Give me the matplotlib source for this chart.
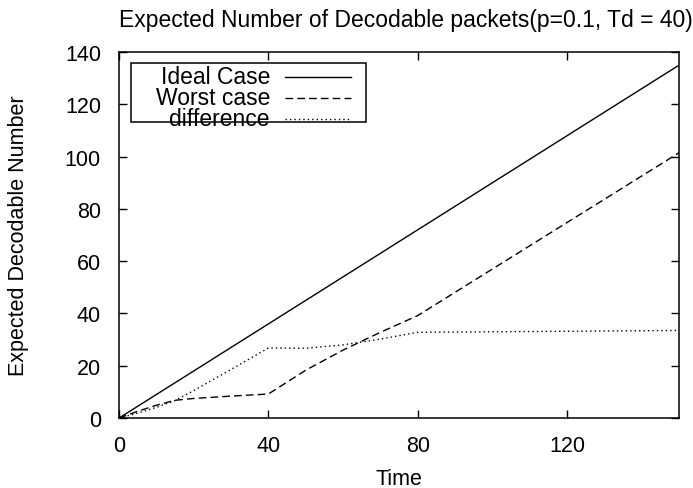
import matplotlib
matplotlib.use("Agg")
import matplotlib.pyplot as plt
from matplotlib.patches import Rectangle

plt.rcParams['font.family'] = ['Liberation Sans', 'DejaVu Sans']

# decodable packet counts over time
time_ideal = [0, 150]
ideal = [0, 135]

time_worst = [0, 5, 10, 15, 20, 30, 40, 50, 60, 70, 80, 150]
worst = [0, 2.6, 4.9, 6.8, 7.5, 8.4, 9.2, 18.3, 26.0, 32.8, 39.2, 101.5]

time_diff = [0, 5, 10, 15, 20, 30, 40, 50, 60, 70, 80, 150]
diff = [0, 1.9, 4.1, 6.7, 10.5, 18.6, 26.8, 26.7, 28.0, 30.2, 32.8, 33.5]

xticks = [0, 40, 80, 120]
yticks = [0, 20, 40, 60, 80, 100, 120, 140]

FS = 15.5
FS_BIG = 16.5

fig = plt.figure(figsize=(6.93, 4.89), dpi=100)
ax = fig.add_axes([0.1717, 0.143, 0.8083, 0.7486])

lw = 1.0
dash = (5.5, 3)
dot = (1, 2.2)
ax.plot(time_ideal, ideal, color='black', lw=lw, solid_capstyle='butt')
ax.plot(time_worst, worst, color='black', lw=lw, dashes=dash)
ax.plot(time_diff, diff, color='black', lw=lw, dashes=dot)

ax.set_xlim(0, 150)
ax.set_ylim(0, 140)
ax.set_xticks(xticks)
ax.set_yticks(yticks)
ax.tick_params(direction='in', length=6, width=1, top=True, right=True,
               labelsize=FS)
ax.tick_params(axis='x', pad=12)
ax.tick_params(axis='y', pad=13)
for s in ax.spines.values():
    s.set_linewidth(1.1)

ax.set_xlabel('Time', fontsize=FS, va='center')
ax.xaxis.set_label_coords(0.5, -0.164)
ax.set_ylabel('Expected Decodable Number', fontsize=FS, va='center')
ax.yaxis.set_label_coords(-0.18, 0.5)
fig.text(0.585, 0.958, 'Expected Number of Decodable packets(p=0.1, Td = 40)',
         ha='center', va='center', fontsize=FS_BIG)

# gnuplot-style key: right aligned labels with line samples
def px(x, y):
    return ax.transAxes.inverted().transform(fig.transFigure.transform((x / 693, 1 - y / 489)))

x0, y0 = px(131, 123)
x1, y1 = px(366, 64)
ax.add_patch(Rectangle((x0, y0), x1 - x0, y1 - y0, transform=ax.transAxes,
                       fill=False, lw=1.1, ec='black', clip_on=False, zorder=5))
labels = ['Ideal Case', 'Worst case', 'difference']
styles = [dict(), dict(dashes=dash), dict(dashes=dot)]
for i, (lab, st) in enumerate(zip(labels, styles)):
    yc = 77.5 + i * 21
    tx, ty = px(270, yc)
    ax.text(tx, ty, lab, transform=ax.transAxes, ha='right', va='center', fontsize=FS_BIG)
    lx0, ly = px(285, yc)
    lx1, _ = px(351, yc)
    ax.plot([lx0, lx1], [ly, ly], transform=ax.transAxes, color='black', lw=lw,
            clip_on=False, **st)

fig.savefig('out.png', dpi=100)
